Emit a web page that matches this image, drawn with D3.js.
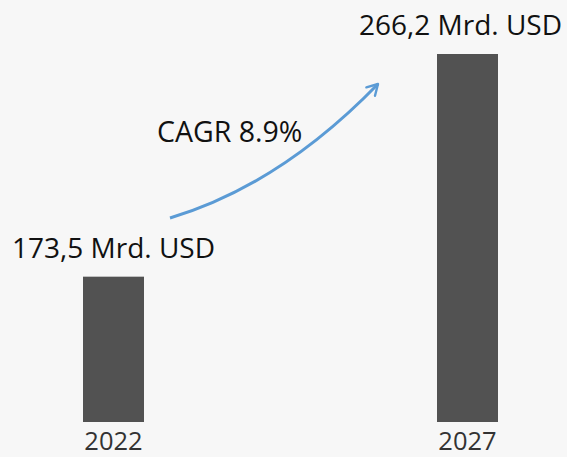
<!DOCTYPE html>
<html>
<head>
<meta charset="utf-8">
<script src="https://cdn.jsdelivr.net/npm/d3@7"></script>
<style>
  html, body { margin: 0; padding: 0; background: #f7f7f7; }
  svg { display: block; font-family: "Open Sans", sans-serif; }
</style>
</head>
<body>
<div id="chart"></div>
<script>
const years = ['2022', '2027'];
const values = [173.5, 266.2];
const valueLabels = ['173,5 Mrd. USD', '266,2 Mrd. USD'];
const cagrLabel = 'CAGR 8.9%';

const w_svg = 567, h_svg = 457;
const barW = 61;

const svg = d3.select('#chart').append('svg')
	.attr('width', w_svg)
	.attr('height', h_svg);

svg.append('rect')
	.attr('width', w_svg)
	.attr('height', h_svg)
	.attr('fill', '#f7f7f7');

// bars are not drawn from zero in the original, the axis starts near 113
const scaleX = d3.scalePoint().domain(years).range([113.5, 467.5]);
const scaleY = d3.scaleLinear().domain([113, 266.2]).range([422, 54]);

const plot = svg.append('g').attr('class', 'plot');

plot.selectAll('.bar')
	.data(values)
	.enter()
	.append('rect')
	.attr('class', 'bar')
	.attr('x', (d, i) => scaleX(years[i]) - barW / 2)
	.attr('y', d => scaleY(d))
	.attr('width', barW)
	.attr('height', d => scaleY.range()[0] - scaleY(d))
	.attr('fill', '#525252');

// value labels above bars, kept inside the right edge
plot.selectAll('.val')
	.data(values)
	.enter()
	.append('text')
	.attr('class', 'val')
	.attr('y', d => scaleY(d) - 19)
	.attr('font-size', 28)
	.attr('fill', '#111')
	.attr('text-anchor', 'middle')
	.text((d, i) => valueLabels[i])
	.attr('x', function(d, i) {
		const half = this.getComputedTextLength() / 2;
		return Math.min(scaleX(years[i]), w_svg - 5 - half);
	});

plot.selectAll('.year')
	.data(years)
	.enter()
	.append('text')
	.attr('class', 'year')
	.attr('x', d => scaleX(d))
	.attr('y', 450)
	.attr('font-size', 25.5)
	.attr('fill', '#333')
	.attr('text-anchor', 'middle')
	.text(d => d);

// growth arrow
const p0 = [170, 218], c = [280, 185], p2 = [378, 84];
const path = d3.path();
path.moveTo(p0[0], p0[1]);
path.quadraticCurveTo(c[0], c[1], p2[0], p2[1]);

svg.append('defs').append('marker')
	.attr('id', 'head')
	.attr('viewBox', '0 0 10 10')
	.attr('refX', 8)
	.attr('refY', 5)
	.attr('markerWidth', 5)
	.attr('markerHeight', 5)
	.attr('markerUnits', 'strokeWidth')
	.attr('orient', 'auto')
	.append('path')
	.attr('d', 'M1,1 L8,5 L1,9')
	.attr('fill', 'none')
	.attr('stroke', '#5b9bd5')
	.attr('stroke-width', 1.6)
	.attr('stroke-linecap', 'round')
	.attr('stroke-linejoin', 'round');

svg.append('path')
	.attr('d', path.toString())
	.attr('fill', 'none')
	.attr('stroke', '#5b9bd5')
	.attr('stroke-width', 3)
	.attr('marker-end', 'url(#head)');

svg.append('text')
	.attr('x', 157)
	.attr('y', 142)
	.attr('font-size', 28.5)
	.attr('fill', '#111')
	.text(cagrLabel);
</script>
</body>
</html>
